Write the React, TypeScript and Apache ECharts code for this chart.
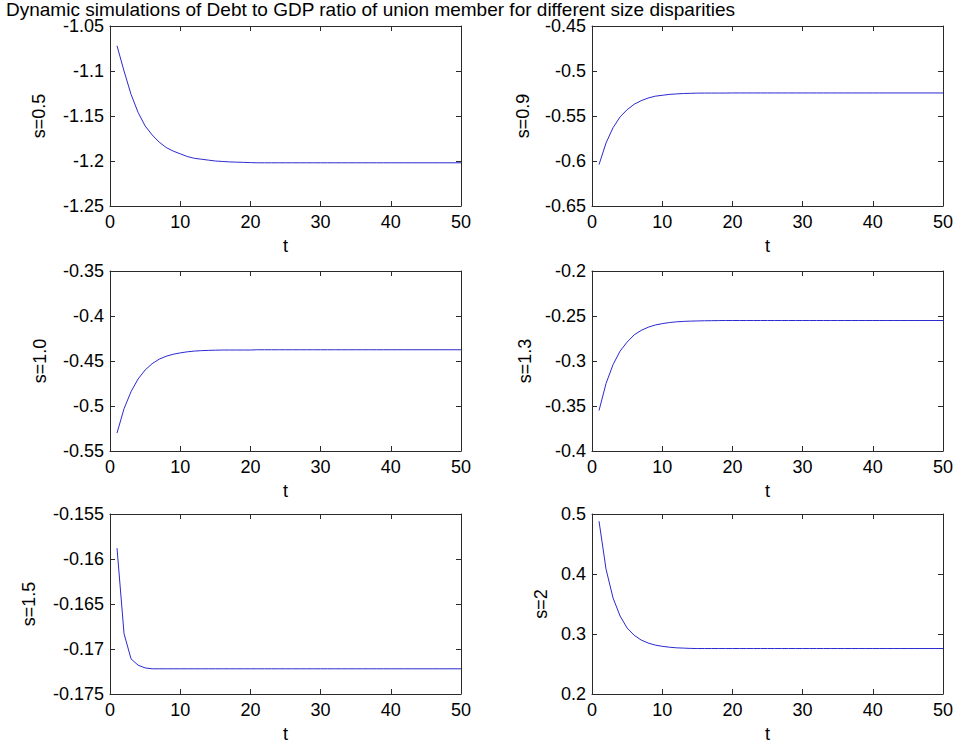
import React, { useEffect, useRef } from "react";
import * as echarts from "echarts";

const TITLE = "Dynamic simulations of Debt to GDP ratio of union member for different size disparities";

const t: number[] = Array.from({ length: 50 }, (_, i) => i + 1);

const s05 = [
  -1.072, -1.1, -1.126, -1.146, -1.161, -1.171, -1.179, -1.185, -1.189, -1.192,
  -1.195, -1.197, -1.198, -1.199, -1.2, -1.2005, -1.201, -1.2013, -1.2015, -1.2018,
  -1.202, -1.202, -1.202, -1.202, -1.202, -1.202, -1.202, -1.202, -1.202, -1.202,
  -1.202, -1.202, -1.202, -1.202, -1.202, -1.202, -1.202, -1.202, -1.202, -1.202,
  -1.202, -1.202, -1.202, -1.202, -1.202, -1.202, -1.202, -1.202, -1.202, -1.202,
];

const s09 = [
  -0.604, -0.58, -0.563, -0.551, -0.543, -0.537, -0.533, -0.53, -0.528, -0.527,
  -0.526, -0.5255, -0.525, -0.5248, -0.5246, -0.5245, -0.5245, -0.5245, -0.5245, -0.5244,
  -0.5244, -0.5244, -0.5244, -0.5244, -0.5244, -0.5244, -0.5244, -0.5244, -0.5244, -0.5244,
  -0.5244, -0.5244, -0.5244, -0.5244, -0.5244, -0.5244, -0.5244, -0.5244, -0.5244, -0.5244,
  -0.5244, -0.5244, -0.5244, -0.5244, -0.5244, -0.5244, -0.5244, -0.5244, -0.5244, -0.5244,
];

const s10 = [
  -0.53, -0.503, -0.484, -0.47, -0.46, -0.453, -0.448, -0.4447, -0.4425, -0.441,
  -0.4398, -0.439, -0.4385, -0.4382, -0.438, -0.4378, -0.4378, -0.4378, -0.4378, -0.4378,
  -0.4375, -0.4375, -0.4375, -0.4375, -0.4375, -0.4375, -0.4375, -0.4375, -0.4375, -0.4375,
  -0.4375, -0.4375, -0.4375, -0.4375, -0.4375, -0.4375, -0.4375, -0.4375, -0.4375, -0.4375,
  -0.4375, -0.4375, -0.4375, -0.4375, -0.4375, -0.4375, -0.4375, -0.4375, -0.4375, -0.4375,
];

const s13 = [
  -0.355, -0.325, -0.304, -0.289, -0.279, -0.271, -0.266, -0.2625, -0.26, -0.2585,
  -0.2573, -0.2565, -0.256, -0.2557, -0.2555, -0.2553, -0.2552, -0.2551, -0.255, -0.255,
  -0.255, -0.255, -0.255, -0.255, -0.255, -0.255, -0.255, -0.255, -0.255, -0.255,
  -0.255, -0.255, -0.255, -0.255, -0.255, -0.255, -0.255, -0.255, -0.255, -0.255,
  -0.255, -0.255, -0.255, -0.255, -0.255, -0.255, -0.255, -0.255, -0.255, -0.255,
];

const s15 = [
  -0.1588, -0.1683, -0.1711, -0.1718, -0.1721, -0.1722, -0.1722, -0.1722, -0.1722, -0.1722,
  -0.1722, -0.1722, -0.1722, -0.1722, -0.1722, -0.1722, -0.1722, -0.1722, -0.1722, -0.1722,
  -0.1722, -0.1722, -0.1722, -0.1722, -0.1722, -0.1722, -0.1722, -0.1722, -0.1722, -0.1722,
  -0.1722, -0.1722, -0.1722, -0.1722, -0.1722, -0.1722, -0.1722, -0.1722, -0.1722, -0.1722,
  -0.1722, -0.1722, -0.1722, -0.1722, -0.1722, -0.1722, -0.1722, -0.1722, -0.1722, -0.1722,
];

const s20 = [
  0.488, 0.408, 0.36, 0.33, 0.31, 0.298, 0.29, 0.285, 0.2815, 0.2795,
  0.278, 0.277, 0.2765, 0.276, 0.2758, 0.2758, 0.2758, 0.2758, 0.2758, 0.2758,
  0.2758, 0.2758, 0.2758, 0.2758, 0.2758, 0.2758, 0.2758, 0.2758, 0.2758, 0.2758,
  0.2758, 0.2758, 0.2758, 0.2758, 0.2758, 0.2758, 0.2758, 0.2758, 0.2758, 0.2758,
  0.2758, 0.2758, 0.2758, 0.2758, 0.2758, 0.2758, 0.2758, 0.2758, 0.2758, 0.2758,
];

const panelNames = ["s=0.5", "s=0.9", "s=1.0", "s=1.3", "s=1.5", "s=2"];
const panelData = [s05, s09, s10, s13, s15, s20];
const yMins = [-1.25, -0.65, -0.55, -0.4, -0.175, 0.2];
const yMaxs = [-1.05, -0.45, -0.35, -0.2, -0.155, 0.5];
const yIntervals = [0.05, 0.05, 0.05, 0.05, 0.005, 0.1];
const xTickMin = 0;
const xTickMax = 50;
const xTickInterval = 10;

const FONT = "'Liberation Sans', Arial, Helvetica, sans-serif";
const AXIS_COLOR = "#2a2a2a";
const LINE_COLOR = "#2a2ad0";

const colLefts = [110, 592];
const rowTops = [26, 271, 514];
const plotW = 351;
const plotH = 180;
const yNameGaps = [62, 60, 61, 58, 72, 42];

const fmt = (v: number) => String(parseFloat(v.toFixed(4)));

export default function App() {
  const ref = useRef<HTMLDivElement>(null);

  useEffect(() => {
    document.body.style.margin = "0";
    if (!ref.current) return;
    const chart = echarts.init(ref.current, null, { renderer: "svg" });

    const grids: any[] = [];
    const xAxes: any[] = [];
    const yAxes: any[] = [];
    const series: any[] = [];

    const tickStyle = { show: true, inside: true, length: 5, lineStyle: { color: AXIS_COLOR, width: 1 } };
    const lineStyle = { show: true, onZero: false, lineStyle: { color: AXIS_COLOR, width: 1 } };

    panelData.forEach((vals, i) => {
      const col = i % 2;
      const row = Math.floor(i / 2);
      grids.push({
        left: colLefts[col],
        top: rowTops[row],
        width: plotW,
        height: plotH,
        containLabel: false,
        outerBoundsMode: "none",
        show: false,
      });
      xAxes.push({
        gridIndex: i,
        type: "value",
        position: "bottom",
        min: xTickMin,
        max: xTickMax,
        interval: xTickInterval,
        axisLine: lineStyle,
        axisTick: tickStyle,
        splitLine: { show: false },
        axisLabel: { color: "#000", fontSize: 18, fontFamily: FONT, margin: 7 },
        name: "t",
        nameLocation: "middle",
        nameGap: 31,
        nameTextStyle: { color: "#000", fontSize: 18, fontFamily: FONT },
      });
      xAxes.push({
        gridIndex: i,
        type: "value",
        position: "top",
        min: xTickMin,
        max: xTickMax,
        interval: xTickInterval,
        axisLine: lineStyle,
        axisTick: tickStyle,
        splitLine: { show: false },
        axisLabel: { show: false },
      });
      yAxes.push({
        gridIndex: i,
        type: "value",
        position: "left",
        min: yMins[i],
        max: yMaxs[i],
        interval: yIntervals[i],
        axisLine: lineStyle,
        axisTick: tickStyle,
        splitLine: { show: false },
        axisLabel: { color: "#000", fontSize: 18, fontFamily: FONT, margin: 6, formatter: fmt },
        name: panelNames[i],
        nameLocation: "middle",
        nameGap: yNameGaps[i],
        nameRotate: 90,
        nameTextStyle: { color: "#000", fontSize: 18, fontFamily: FONT },
      });
      yAxes.push({
        gridIndex: i,
        type: "value",
        position: "right",
        min: yMins[i],
        max: yMaxs[i],
        interval: yIntervals[i],
        axisLine: lineStyle,
        axisTick: tickStyle,
        splitLine: { show: false },
        axisLabel: { show: false },
      });
      series.push({
        type: "line",
        name: panelNames[i],
        xAxisIndex: i * 2,
        yAxisIndex: i * 2,
        data: t.map((x, j) => [x, vals[j]]),
        showSymbol: false,
        symbol: "none",
        lineStyle: { color: LINE_COLOR, width: 1 },
        itemStyle: { color: LINE_COLOR },
        emphasis: { disabled: true },
      });
    });

    chart.setOption({
      animation: false,
      backgroundColor: "#ffffff",
      title: {
        text: TITLE,
        left: 6,
        top: 0,
        padding: 0,
        textStyle: { color: "#000", fontSize: 19, fontWeight: "normal", fontFamily: FONT, lineHeight: 19 },
      },
      tooltip: { show: false },
      grid: grids,
      xAxis: xAxes,
      yAxis: yAxes,
      series,
    });

    return () => chart.dispose();
  }, []);

  return (
    <div
      ref={ref}
      style={{ position: "fixed", left: 0, top: 0, width: 961, height: 745, background: "#fff" }}
    />
  );
}
